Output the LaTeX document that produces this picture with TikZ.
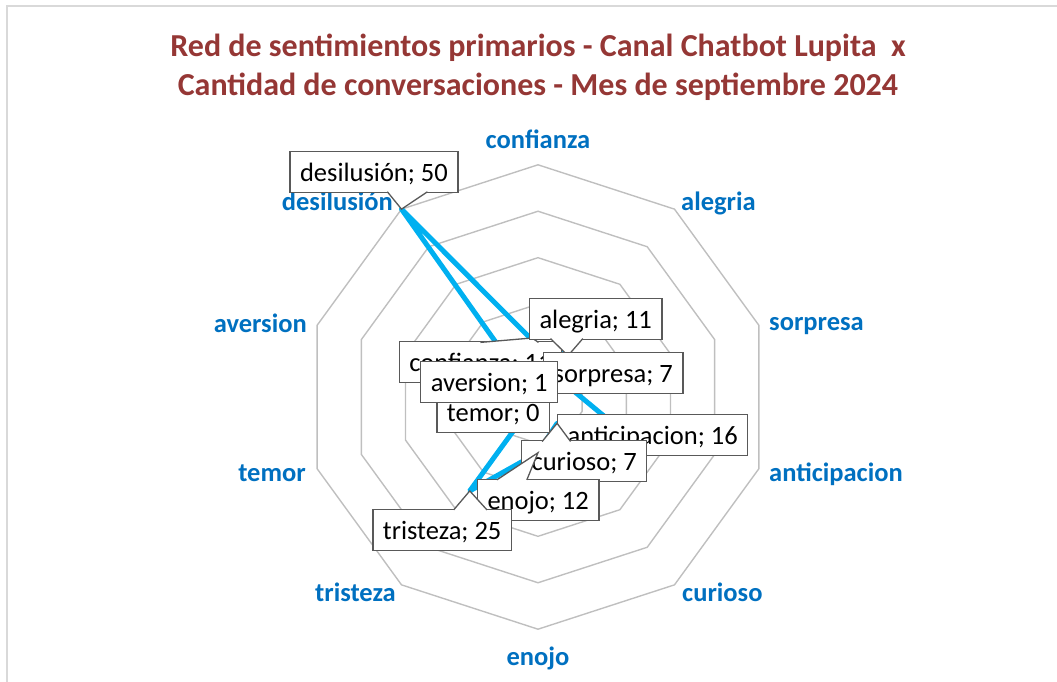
\documentclass[tikz,border=0pt]{standalone}
\usepackage{fontspec}
\setmainfont{Carlito}
\definecolor{titulo}{RGB}{149,55,53}
\definecolor{ejeazul}{RGB}{0,112,192}
\definecolor{serieazul}{RGB}{0,176,240}
\definecolor{rejilla}{RGB}{191,191,191}
\definecolor{borde}{RGB}{89,89,89}
\definecolor{marco}{RGB}{217,217,217}
\tikzset{
  anillo/.style={draw=rejilla, line width=1.4pt},
  serie/.style={draw=serieazul, line width=5pt, line join=round},
  etiq/.style={draw=borde, fill=white, line width=1.3pt, outer sep=0pt,
    font=\fontsize{26.5}{30}\selectfont, inner xsep=10pt, inner ysep=0pt,
    minimum height=41pt, text height=19pt, text depth=0pt},
  pico/.style={draw=borde, fill=white, line width=1.3pt},
  eje/.style={text=ejeazul, font=\bfseries\fontsize{26.5}{30}\selectfont, inner sep=0pt}
}
\begin{document}
\begin{tikzpicture}[x=1pt,y=1pt]
\useasboundingbox (-538,-285) rectangle (519,397);
% marco
\draw[marco, line width=1.5pt] (-531,-285) -- (-531,391) -- (519,391);
% titulo
\node[text=titulo, font=\bfseries\fontsize{32}{39}\selectfont, align=center] (titulo) at (0,329.5)
  {Red de sentimientos primarios - Canal Chatbot Lupita\ \ x\\Cantidad de conversaciones - Mes de septiembre 2024};
% anillos (0 a 50, paso 10)
\draw[anillo] (90:46.44) -- (54:46.44) -- (18:46.44) -- (-18:46.44) -- (-54:46.44) -- (-90:46.44) -- (-126:46.44) -- (-162:46.44) -- (162:46.44) -- (126:46.44) -- cycle;
\draw[anillo] (90:92.88) -- (54:92.88) -- (18:92.88) -- (-18:92.88) -- (-54:92.88) -- (-90:92.88) -- (-126:92.88) -- (-162:92.88) -- (162:92.88) -- (126:92.88) -- cycle;
\draw[anillo] (90:139.32) -- (54:139.32) -- (18:139.32) -- (-18:139.32) -- (-54:139.32) -- (-90:139.32) -- (-126:139.32) -- (-162:139.32) -- (162:139.32) -- (126:139.32) -- cycle;
\draw[anillo] (90:185.76) -- (54:185.76) -- (18:185.76) -- (-18:185.76) -- (-54:185.76) -- (-90:185.76) -- (-126:185.76) -- (-162:185.76) -- (162:185.76) -- (126:185.76) -- cycle;
\draw[anillo] (90:232.2) -- (54:232.2) -- (18:232.2) -- (-18:232.2) -- (-54:232.2) -- (-90:232.2) -- (-126:232.2) -- (-162:232.2) -- (162:232.2) -- (126:232.2) -- cycle;
% ejes
\node[eje] (a-conf) at (0,258) {confianza};
\node[eje, anchor=west] (a-aleg) at (143,194) {alegria};
\node[eje, anchor=west] (a-sorp) at (231,71) {sorpresa};
\node[eje, anchor=west] (a-anti) at (231,-77) {anticipacion};
\node[eje, anchor=west] (a-curi) at (144,-195) {curioso};
\node[eje] (a-enoj) at (0,-261) {enojo};
\node[eje, anchor=east] (a-tris) at (-142,-195) {tristeza};
\node[eje, anchor=east] (a-temo) at (-232,-76) {temor};
\node[eje, anchor=east] (a-aver) at (-231,74) {aversion};
\node[eje, anchor=east] (a-desi) at (-145,196) {desilusión};
% datos
\coordinate (p-conf) at (90:11*4.644);
\coordinate (p-aleg) at (54:11*4.644);
\coordinate (p-sorp) at (18:7*4.644);
\coordinate (p-anti) at (-18:16*4.644);
\coordinate (p-curi) at (-54:7*4.644);
\coordinate (p-enoj) at (-90:12*4.644);
\coordinate (p-tris) at (-126:25*4.644);
\coordinate (p-temo) at (0,0);
\coordinate (p-aver) at (162:1*4.644);
\coordinate (p-desi) at (126:50*4.644);
\draw[serie] (p-conf) -- (p-aleg) -- (p-sorp) -- (p-anti) -- (p-curi) -- (p-enoj) -- (p-tris) -- (p-temo) -- (p-aver) -- (p-desi) -- cycle;
% etiquetas de datos
\coordinate (t-conf) at (-6,59);
\node[etiq] (l-conf) at (-57.5,34.8) {confianza; 11};
\filldraw[pico] ([xshift=81pt,yshift=-0.7pt]l-conf.north west) -- (t-conf) -- ([xshift=139pt,yshift=-0.7pt]l-conf.north west);
\node[etiq] (l-aleg) at (57.7,78.2) {alegria; 11};
\filldraw[pico] ([xshift=21pt,yshift=0.7pt]l-aleg.south west) -- (p-aleg) -- ([xshift=53.3pt,yshift=0.7pt]l-aleg.south west);
\node[etiq] (l-sorp) at (75.3,24.2) {sorpresa; 7};
\node[etiq] (l-anti) at (114.7,-38) {anticipacion; 16};
\node[etiq] (l-curi) at (46.2,-64.3) {curioso; 7};
\filldraw[pico] ([xshift=20.6pt,yshift=-0.7pt]l-curi.north west) -- (p-curi) -- ([xshift=49pt,yshift=-0.7pt]l-curi.north west);
\node[etiq] (l-enoj) at (0.2,-102.7) {enojo; 12};
\filldraw[pico] ([xshift=19.3pt,yshift=-0.7pt]l-enoj.north west) -- (p-enoj) -- ([xshift=49.3pt,yshift=-0.7pt]l-enoj.north west);
\node[etiq] (l-tris) at (-95.8,-132.7) {tristeza; 25};
\filldraw[pico] ([xshift=80.7pt,yshift=-0.7pt]l-tris.north west) -- (p-tris) -- ([xshift=114pt,yshift=-0.7pt]l-tris.north west);
\node[etiq] (l-temo) at (-44.7,-14.7) {temor; 0};
\node[etiq] (l-aver) at (-48.8,15.3) {aversion; 1};
\node[etiq] (l-desi) at (-164,225) {desilusión; 50};
\filldraw[pico] ([xshift=97.3pt,yshift=0.7pt]l-desi.south west) -- (p-desi) -- ([xshift=137.3pt,yshift=0.7pt]l-desi.south west);
\end{tikzpicture}
\end{document}
